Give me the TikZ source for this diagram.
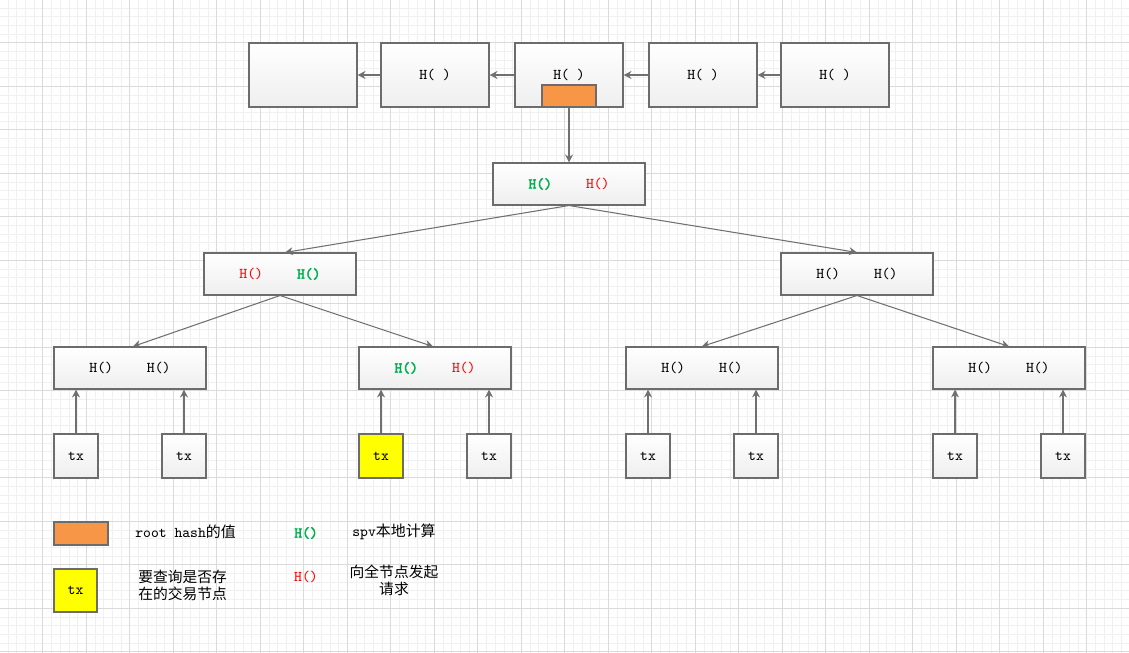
\documentclass[tikz,border=0pt]{standalone}
\usepackage{xcolor}
\usepackage{fontspec}
\newfontfamily\cjk{Noto Sans CJK SC}
\newfontfamily\monobold{lmmono10-regular.otf}[FakeBold=2.5]
\usepackage{tikz}
\usetikzlibrary{arrows.meta,shadows}
\definecolor{hgreen}{RGB}{0,176,80}
\definecolor{hred}{RGB}{255,0,0}
\definecolor{rootorange}{RGB}{247,150,70}
\definecolor{boxline}{RGB}{108,108,108}
\definecolor{wirecol}{RGB}{112,112,112}
\definecolor{gridminor}{RGB}{240,240,240}
\definecolor{gridmajor}{RGB}{218,218,218}
\newcommand{\hg}{\textcolor{hgreen}{\monobold H()}}
\newcommand{\hr}{\textcolor{hred}{H()}}
\newcommand{\hk}{H()}

\begin{document}
\begin{tikzpicture}[font=\ttfamily\fontsize{8.5}{10}\selectfont,
	box/.style={shape=rectangle, draw=boxline, line width=0.6pt, top color=white, bottom color=gray!13, inner sep=0, drop shadow={shadow xshift=0.7pt, shadow yshift=-0.7pt, opacity=0.18}},
	txmark/.style={box, top color=yellow, bottom color=yellow},
	rootmark/.style={shape=rectangle, draw=boxline, line width=0.6pt, fill=rootorange, inner sep=0},
	wire/.style={draw=wirecol, line width=0.6pt, -{Stealth[length=4.5pt, width=4.5pt]}},
	keytext/.style={inner sep=0, font=\cjk\fontsize{8.4}{9.6}\selectfont}]
	% Background grid:
	\useasboundingbox (0, 0) rectangle (22.58, 13.04);
	\begin{scope}
		\clip (0, 0) rectangle (22.58, 13.04);
		\draw[gridminor, line width=0.45pt, shift={(-0.014, 13.054)}] (0, -13.3) grid[step=0.174] (22.8, 0.2);
		\draw[gridmajor, line width=0.5pt, shift={(-0.014, 13.054)}] (0, -13.3) grid[step=0.87] (22.8, 0.2);
	\end{scope}
	% Block chain:
	\node[box, minimum width=2.16cm, minimum height=1.28cm](Rect0) at (6.06, 11.54){};
	\node[box, minimum width=2.16cm, minimum height=1.28cm](Rect1) at (8.70, 11.54){H( )};
	\node[box, minimum width=2.16cm, minimum height=1.28cm](Rect2) at (11.38, 11.54){H( )};
	\node[box, minimum width=2.16cm, minimum height=1.28cm](Rect3) at (14.06, 11.54){H( )};
	\node[box, minimum width=2.16cm, minimum height=1.28cm](Rect4) at (16.70, 11.54){H( )};
	\node[rootmark, minimum width=1.08cm, minimum height=0.44cm](Root) at (11.38, 11.12){};
	\draw[wire] (Rect4.west) -- (Rect3.east);
	\draw[wire] (Rect3.west) -- (Rect2.east);
	\draw[wire] (Rect2.west) -- (Rect1.east);
	\draw[wire] (Rect1.west) -- (Rect0.east);
	% Merkle tree:
	\node[box, minimum width=3.04cm, minimum height=0.84cm](Hash0) at (11.38, 9.36){\hg\hspace{0.68cm}\hr};
	\node[box, minimum width=3.04cm, minimum height=0.84cm](Hash1) at (5.60, 7.56){\hr\hspace{0.68cm}\hg};
	\node[box, minimum width=3.04cm, minimum height=0.84cm](Hash2) at (17.14, 7.56){\hk\hspace{0.68cm}\hk};
	\node[box, minimum width=3.04cm, minimum height=0.84cm](Hash3) at (2.60, 5.68){\hk\hspace{0.68cm}\hk};
	\node[box, minimum width=3.04cm, minimum height=0.84cm](Hash4) at (8.70, 5.68){\hg\hspace{0.68cm}\hr};
	\node[box, minimum width=3.04cm, minimum height=0.84cm](Hash5) at (14.04, 5.68){\hk\hspace{0.68cm}\hk};
	\node[box, minimum width=3.04cm, minimum height=0.84cm](Hash6) at (20.18, 5.68){\hk\hspace{0.68cm}\hk};
	\draw[wire] (Root.south) -- (Hash0.north);
	\draw[wire] (Hash0.south) -- ([xshift=0.1cm]Hash1.north);
	\draw[wire] (Hash0.south) -- (Hash2.north);
	\draw[wire] (Hash1.south) -- ([xshift=0.06cm]Hash3.north);
	\draw[wire] (Hash1.south) -- ([xshift=-0.04cm]Hash4.north);
	\draw[wire] (Hash2.south) -- (Hash5.north);
	\draw[wire] (Hash2.south) -- (Hash6.north);
	% Transactions:
	\node[box, minimum width=0.88cm, minimum height=0.88cm](Tx1) at (1.52, 3.92){tx};
	\node[box, minimum width=0.88cm, minimum height=0.88cm](Tx2) at (3.68, 3.92){tx};
	\node[txmark, minimum width=0.88cm, minimum height=0.88cm](Tx3) at (7.62, 3.92){tx};
	\node[box, minimum width=0.88cm, minimum height=0.88cm](Tx4) at (9.78, 3.92){tx};
	\node[box, minimum width=0.88cm, minimum height=0.88cm](Tx5) at (12.96, 3.92){tx};
	\node[box, minimum width=0.88cm, minimum height=0.88cm](Tx6) at (15.12, 3.92){tx};
	\node[box, minimum width=0.88cm, minimum height=0.88cm](Tx7) at (19.10, 3.92){tx};
	\node[box, minimum width=0.88cm, minimum height=0.88cm](Tx8) at (21.26, 3.92){tx};
	\draw[wire] (Tx1.north) -- (Tx1.north |- Hash3.south);
	\draw[wire] (Tx2.north) -- (Tx2.north |- Hash3.south);
	\draw[wire] (Tx3.north) -- (Tx3.north |- Hash4.south);
	\draw[wire] (Tx4.north) -- (Tx4.north |- Hash4.south);
	\draw[wire] (Tx5.north) -- (Tx5.north |- Hash5.south);
	\draw[wire] (Tx6.north) -- (Tx6.north |- Hash5.south);
	\draw[wire] (Tx7.north) -- (Tx7.north |- Hash6.south);
	\draw[wire] (Tx8.north) -- (Tx8.north |- Hash6.south);
	% Legend:
	\node[rootmark, minimum width=1.08cm, minimum height=0.46cm](Key1) at (1.62, 2.37){};
	\node[anchor=west, inner sep=0](Key1Text) at (2.70, 2.40){root hash{\cjk 的值}};
	\node(Key2) at (6.12, 2.38){\hg};
	\node[anchor=west, inner sep=0](Key2Text) at (7.04, 2.40){spv{\cjk 本地计算}};
	\node[txmark, minimum width=0.86cm, minimum height=0.86cm](Key3) at (1.51, 1.23){tx};
	\node[keytext, anchor=west, align=left](Key3Text) at (2.76, 1.33){要查询是否存\\在的交易节点};
	\node(Key4) at (6.12, 1.50){\hr};
	\node[keytext, align=center](Key4Text) at (7.88, 1.44){向全节点发起\\请求};
\end{tikzpicture}
\end{document}
